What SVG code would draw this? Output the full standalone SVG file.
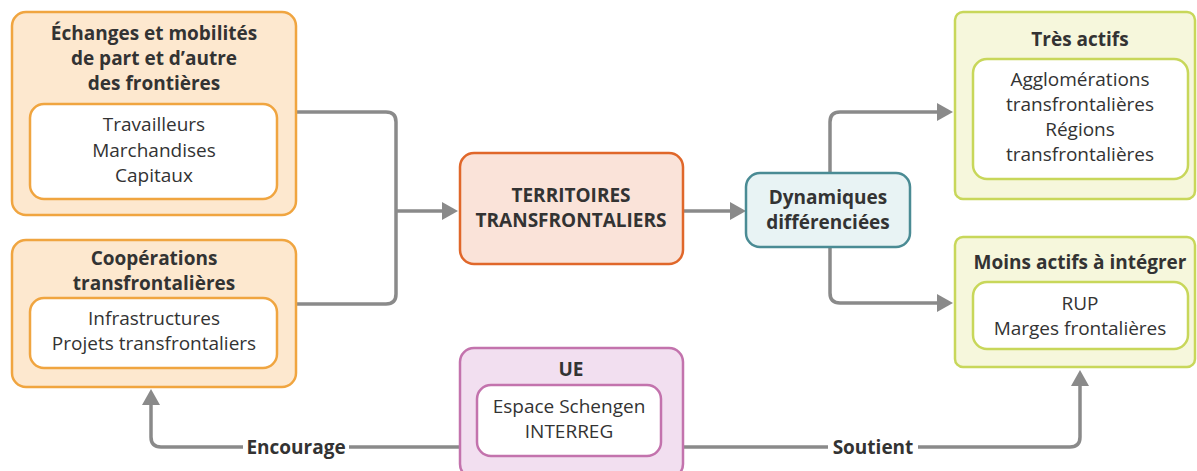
<svg xmlns="http://www.w3.org/2000/svg" width="1197" height="471" viewBox="0 0 1197 471">
<style>
text{font-family:"Open Sans","Noto Sans","Liberation Sans",sans-serif;fill:#333;text-anchor:middle}
.t{font-weight:700;font-size:19px}
.b{font-size:19px}
.orange{fill:#fde8cf;stroke:#f0a540;stroke-width:2.5}
.orangeIn{fill:#fff;stroke:#f0a540;stroke-width:2.5}
.terr{fill:#fae3d9;stroke:#e0672a;stroke-width:2.5}
.dyn{fill:#e8f3f4;stroke:#4a8b94;stroke-width:2.5}
.green{fill:#f6f7dc;stroke:#c8d75a;stroke-width:2.5}
.greenIn{fill:#fff;stroke:#c8d75a;stroke-width:2.5}
.purple{fill:#f2dff0;stroke:#c373ad;stroke-width:2.5}
.purpleIn{fill:#fff;stroke:#c373ad;stroke-width:2.5}
.c{fill:none;stroke:#8a8a8a;stroke-width:3.5}
.a{marker-end:url(#arr)}
</style>
<defs>
<marker id="arr" viewBox="0 0 16 18" refX="6" refY="9" markerWidth="16" markerHeight="18" markerUnits="userSpaceOnUse" orient="auto">
<path d="M0,0 L16,9 L0,18 Z" fill="#8a8a8a"/>
</marker>
</defs>
<g id="connectors">
<path class="c" d="M296,112 H386 Q396,112 396,122 V294 Q396,304 386,304 H296"/>
<path class="c a" d="M396,211 H448"/>
<path class="c a" d="M683,211 H736"/>
<path class="c a" d="M830,173 V122 Q830,112 840,112 H943"/>
<path class="c a" d="M830,247 V293 Q830,303 840,303 H943"/>
<path class="c a" d="M460,447 H161 Q151,447 151,437 V399"/>
<path class="c a" d="M683,447 H1070 Q1080,447 1080,437 V380"/>
<rect x="243" y="434" width="106" height="26" fill="#fff"/>
<text class="t" x="296" y="454">Encourage</text>
<rect x="828" y="434" width="90" height="26" fill="#fff"/>
<text class="t" x="873" y="454">Soutient</text>
</g>
<g id="echanges">
<rect class="orange" x="12" y="12" width="284" height="203" rx="14"/>
<text class="t" x="154" y="40">Échanges et mobilités</text>
<text class="t" x="154" y="65">de part et d’autre</text>
<text class="t" x="154" y="90">des frontières</text>
<rect class="orangeIn" x="30" y="104" width="247" height="95" rx="14"/>
<text class="b" x="154" y="131">Travailleurs</text>
<text class="b" x="154" y="157">Marchandises</text>
<text class="b" x="154" y="182">Capitaux</text>
</g>
<g id="cooperations">
<rect class="orange" x="12" y="240" width="284" height="147" rx="14"/>
<text class="t" x="154" y="265">Coopérations</text>
<text class="t" x="154" y="290">transfrontalières</text>
<rect class="orangeIn" x="30" y="298" width="247" height="70" rx="14"/>
<text class="b" x="154" y="325">Infrastructures</text>
<text class="b" x="154" y="350">Projets transfrontaliers</text>
</g>
<g id="territoires">
<rect class="terr" x="460" y="153" width="223" height="111" rx="14"/>
<text class="t" x="571" y="202">TERRITOIRES</text>
<text class="t" x="571" y="227">TRANSFRONTALIERS</text>
</g>
<g id="dynamiques">
<rect class="dyn" x="746" y="173" width="164" height="74" rx="14"/>
<text class="t" x="828" y="204">Dynamiques</text>
<text class="t" x="828" y="229">différenciées</text>
</g>
<g id="tres-actifs">
<rect class="green" x="955" y="12" width="240" height="187" rx="8"/>
<text class="t" x="1080" y="46">Très actifs</text>
<rect class="greenIn" x="973" y="59" width="215" height="120" rx="14"/>
<text class="b" x="1080" y="86">Agglomérations</text>
<text class="b" x="1080" y="111">transfrontalières</text>
<text class="b" x="1080" y="136">Régions</text>
<text class="b" x="1080" y="161">transfrontalières</text>
</g>
<g id="moins-actifs">
<rect class="green" x="955" y="237" width="240" height="130" rx="8"/>
<text class="t" x="1080" y="269">Moins actifs à intégrer</text>
<rect class="greenIn" x="973" y="282" width="215" height="67" rx="14"/>
<text class="b" x="1080" y="310">RUP</text>
<text class="b" x="1080" y="335">Marges frontalières</text>
</g>
<g id="ue">
<rect class="purple" x="460" y="348" width="223" height="130" rx="14"/>
<text class="t" x="571" y="376">UE</text>
<rect class="purpleIn" x="477" y="385" width="184" height="71" rx="14"/>
<text class="b" x="569" y="413">Espace Schengen</text>
<text class="b" x="569" y="438">INTERREG</text>
</g>
</svg>
